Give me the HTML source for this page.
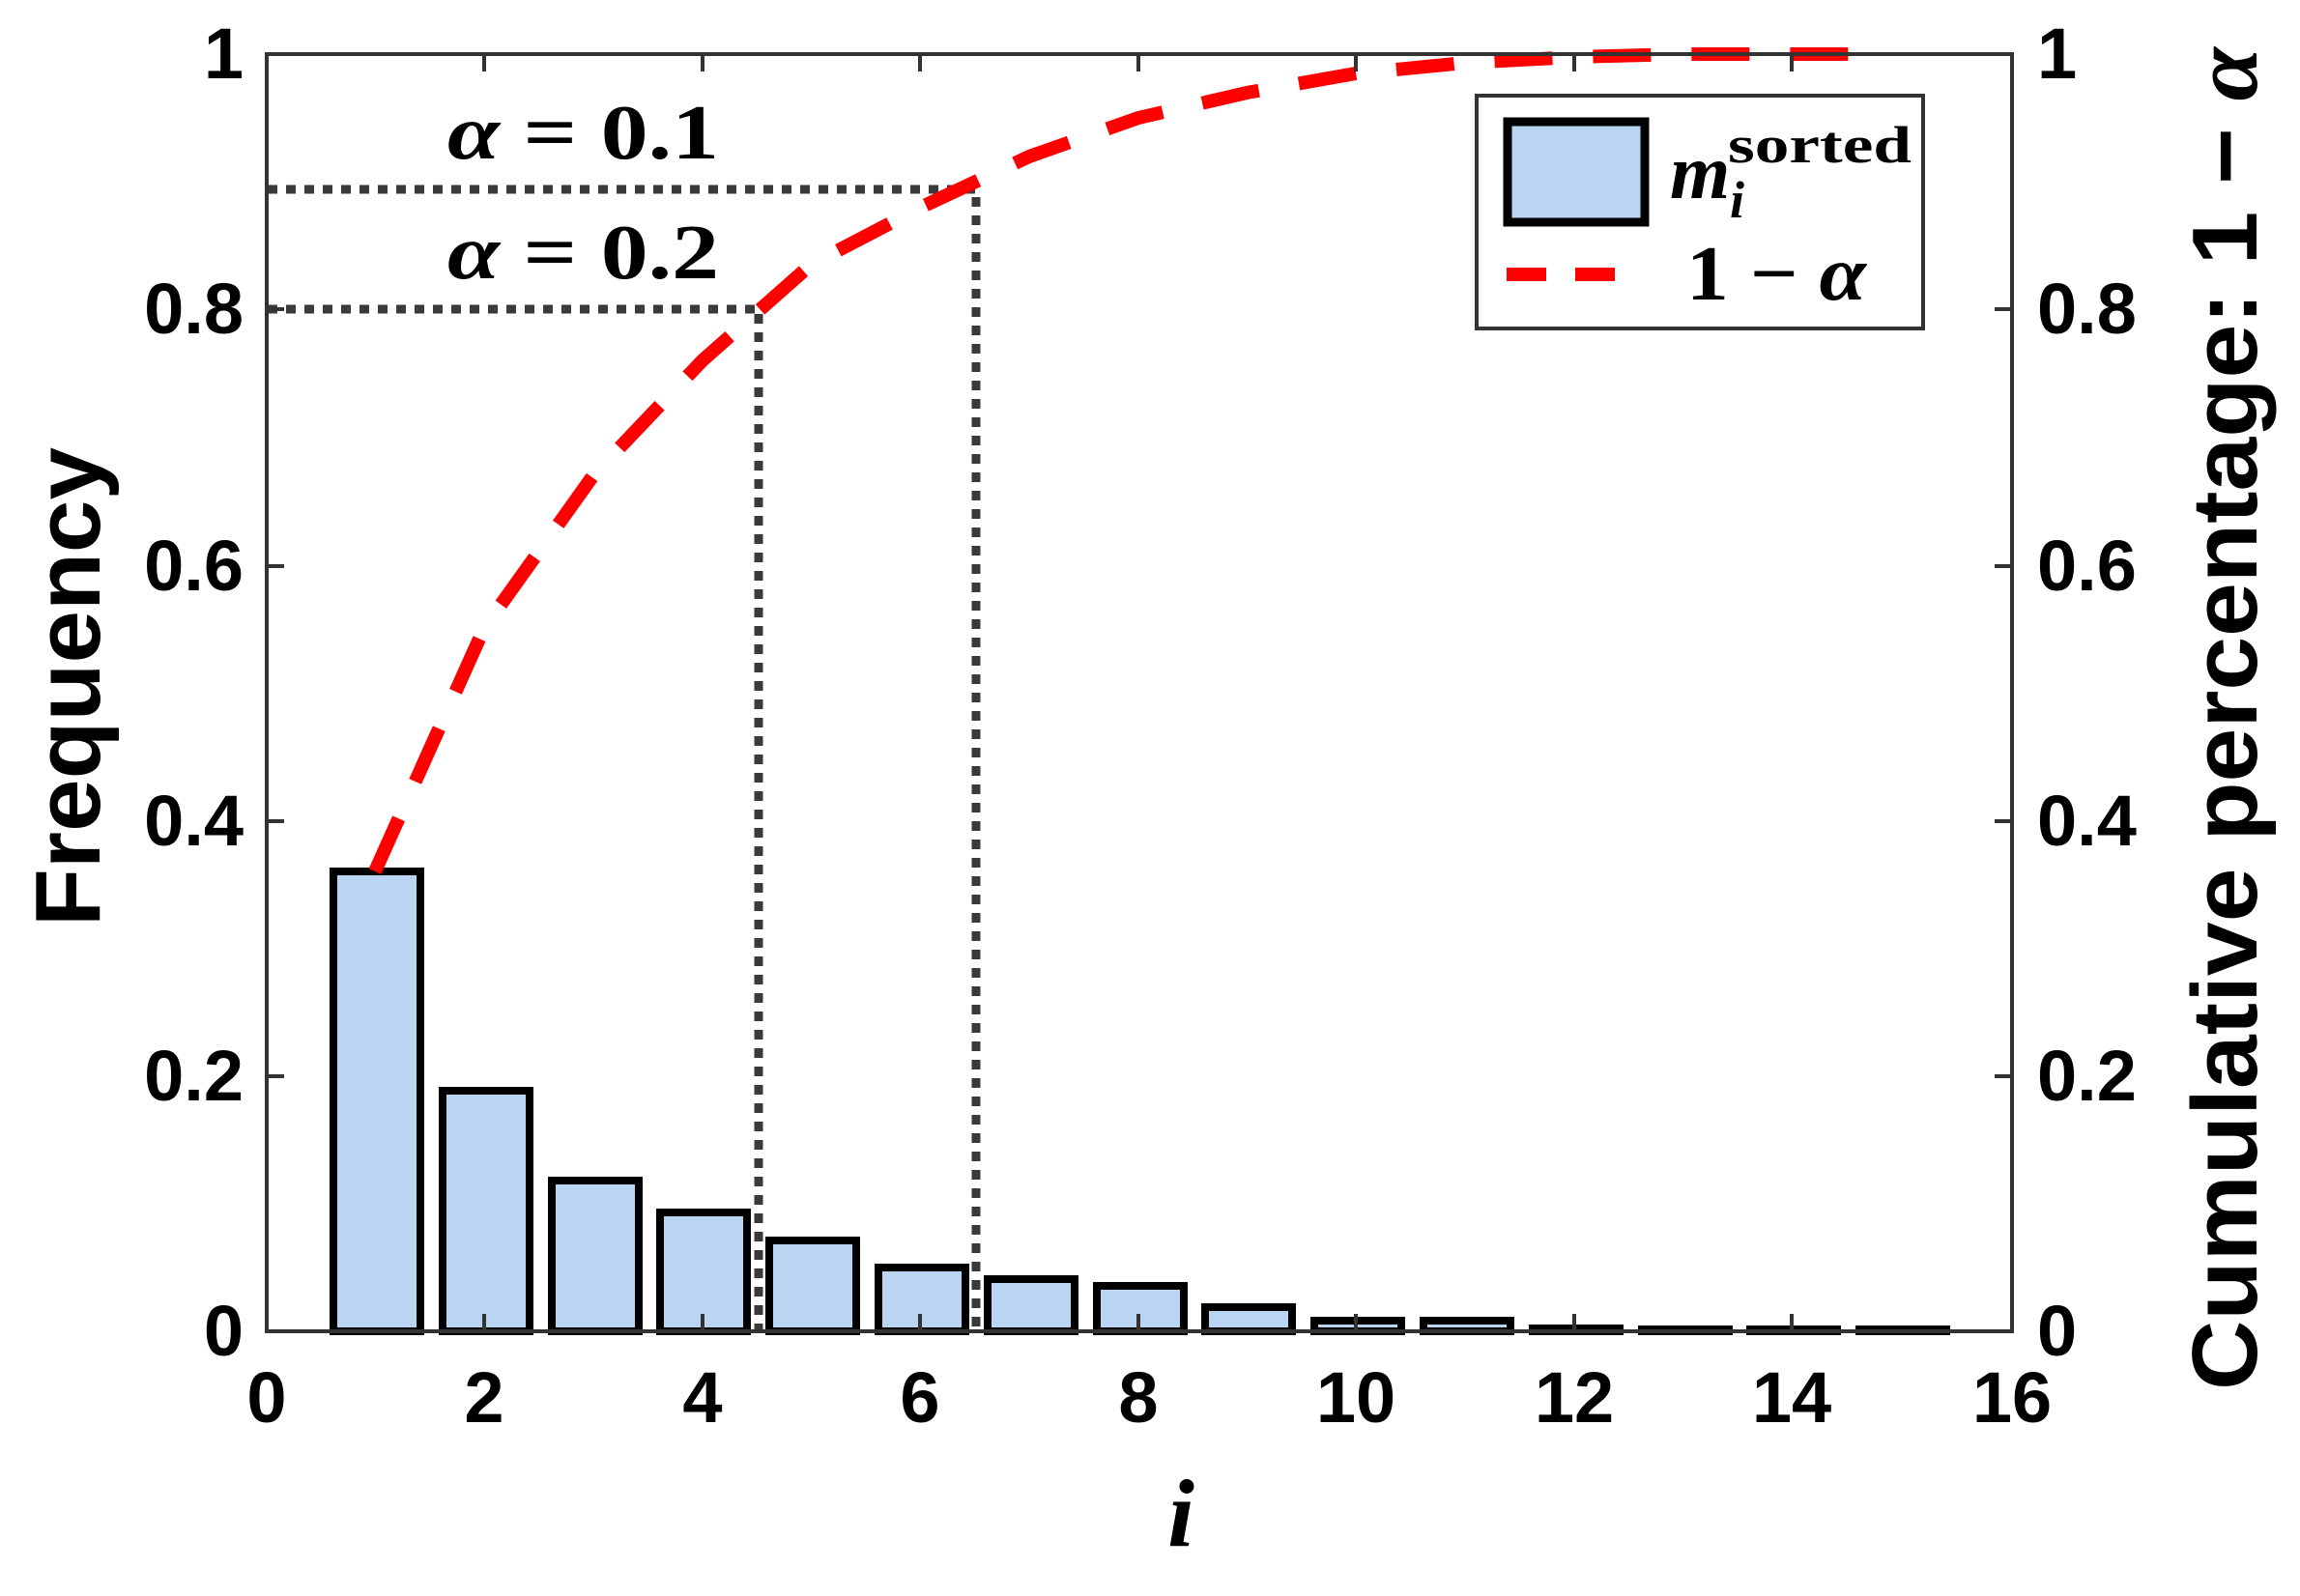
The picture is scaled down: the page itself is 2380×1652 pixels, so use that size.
<!DOCTYPE html>
<html><head><meta charset="utf-8"><style>html,body{margin:0;padding:0;background:#fff}</style></head>
<body>
<svg xmlns="http://www.w3.org/2000/svg" width="2380" height="1647" viewBox="0 0 2380 1647">
<rect width="2380" height="1647" fill="#fff"/>
<g stroke="#000" stroke-width="8" fill="#bad5f2">
<rect x="345" y="902" width="90" height="476"/>
<rect x="458" y="1129" width="90" height="249"/>
<rect x="571" y="1222" width="90" height="156"/>
<rect x="683" y="1255" width="90" height="123"/>
<rect x="796" y="1284" width="90" height="94"/>
<rect x="909" y="1312" width="90" height="66"/>
<rect x="1022" y="1324" width="90" height="54"/>
<rect x="1135" y="1331" width="90" height="47"/>
<rect x="1247" y="1353" width="90" height="25"/>
<rect x="1360" y="1367" width="90" height="11"/>
<rect x="1473" y="1367" width="90" height="11"/>
<rect x="1586" y="1375" width="90" height="3"/>
<rect x="1699" y="1376" width="90" height="2"/>
<rect x="1811" y="1376" width="90" height="2"/>
<rect x="1924" y="1376" width="90" height="2"/>
</g>
<g stroke="#3a3a3a" stroke-width="9" fill="none" stroke-dasharray="10 9">
<path d="M277 320 H785 V1378"/>
<path d="M277 196 H1010 V1378"/>
</g>
<polyline fill="none" stroke="#ff0000" stroke-width="14" stroke-dasharray="60 42"
points="388,902 501,650 614,492 727,373 839,274 952,215 1065,162 1178,122 1290,96 1403,76 1516,65 1629,59 1742,56 1854,56 1945,56"/>
<g stroke="#333" stroke-width="4" fill="none">
<rect x="276" y="56" width="1806" height="1322"/>
<path d="M501 1378v-18M727 1378v-18M952 1378v-18M1178 1378v-18M1403 1378v-18M1629 1378v-18M1854 1378v-18"/>
<path d="M501 56v18M727 56v18M952 56v18M1178 56v18M1403 56v18M1629 56v18M1854 56v18"/>
<path d="M276 1114h18M276 850h18M276 586h18M276 320h18M2082 1114h-18M2082 850h-18M2082 586h-18M2082 320h-18"/>
</g>
<g font-family="Liberation Sans, sans-serif" font-weight="bold" font-size="74" fill="#000">
<g text-anchor="end">
<text x="252" y="1403">0</text><text x="252" y="1139">0.2</text><text x="252" y="875">0.4</text>
<text x="252" y="611">0.6</text><text x="252" y="345">0.8</text><text x="252" y="81">1</text>
</g>
<g text-anchor="start">
<text x="2108" y="1403">0</text><text x="2108" y="1139">0.2</text><text x="2108" y="875">0.4</text>
<text x="2108" y="611">0.6</text><text x="2108" y="345">0.8</text><text x="2108" y="81">1</text>
</g>
<g text-anchor="middle">
<text x="276" y="1472">0</text><text x="501" y="1472">2</text><text x="727" y="1472">4</text>
<text x="952" y="1472">6</text><text x="1178" y="1472">8</text><text x="1403" y="1472">10</text>
<text x="1629" y="1472">12</text><text x="1854" y="1472">14</text><text x="2082" y="1472">16</text>
</g>
<text transform="translate(103,711) rotate(-90)" text-anchor="middle" font-size="96" textLength="496" lengthAdjust="spacingAndGlyphs">Frequency</text>
<text transform="translate(2335,744) rotate(-90)" text-anchor="middle" font-size="96" textLength="1390" lengthAdjust="spacingAndGlyphs">Cumulative percentage: 1 − <tspan font-family="Liberation Serif, serif" font-style="italic">α</tspan></text>
</g>
<text x="1222" y="1600" text-anchor="middle" font-family="Liberation Serif, serif" font-style="italic" font-weight="bold" font-size="100">i</text>
<g font-family="Liberation Serif, serif" font-weight="bold" font-size="80">
<text x="463" y="164" textLength="281" lengthAdjust="spacingAndGlyphs"><tspan font-style="italic">α</tspan> = 0.1</text>
<text x="463" y="288" textLength="281" lengthAdjust="spacingAndGlyphs"><tspan font-style="italic">α</tspan> = 0.2</text>
</g>
<rect x="1528" y="99" width="462" height="241" fill="#fff" stroke="#333" stroke-width="4"/>
<rect x="1560" y="126" width="142" height="104" fill="#bad5f2" stroke="#000" stroke-width="9"/>
<path d="M1559 284H1600M1630 284H1671" stroke="#ff0000" stroke-width="14"/>
<g font-family="Liberation Serif, serif" font-weight="bold" font-size="80">
<text x="1728" y="205"><tspan font-style="italic">m</tspan></text>
<text x="1790" y="225" font-size="54" font-style="italic">i</text>
<text x="1788" y="168" font-size="54" textLength="190" lengthAdjust="spacingAndGlyphs">sorted</text>
<text x="1745" y="310" textLength="186" lengthAdjust="spacingAndGlyphs">1 − <tspan font-style="italic">α</tspan></text>
</g>
</svg>
</body></html>
